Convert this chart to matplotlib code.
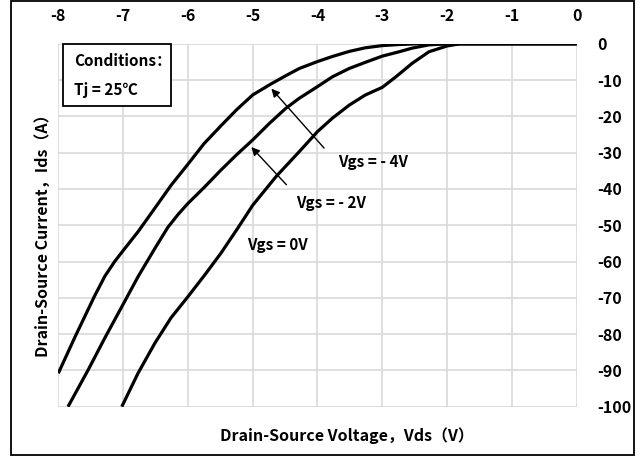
import matplotlib.pyplot as plt
from matplotlib.patches import Rectangle

plt.rcParams['font.family'] = ['Noto Sans CJK SC', 'DejaVu Sans']
plt.rcParams['font.weight'] = 'bold'
plt.rcParams['axes.unicode_minus'] = False

# Vgs = -4V
vds_m4 = [-8.0, -7.74, -7.44, -7.28, -7.13, -7.0, -6.77, -6.51, -6.26, -6.0,
          -5.75, -5.49, -5.25, -5.0, -4.74, -4.49, -4.28, -4.0, -3.77, -3.51,
          -3.26, -3.0, -2.74, -2.45, -2.0, -1.0, 0.0]
ids_m4 = [-90.8, -80.7, -69.5, -64.0, -60.0, -57.0, -51.8, -45.3, -39.0, -33.2,
          -27.5, -22.6, -18.2, -14.1, -11.3, -8.8, -6.8, -4.9, -3.5, -2.1,
          -1.1, -0.5, -0.2, 0.0, 0.0, 0.0, 0.0]

# Vgs = -2V
vds_m2 = [-7.85, -7.54, -7.28, -7.0, -6.77, -6.51, -6.31, -6.15, -6.0, -5.75,
          -5.49, -5.25, -5.0, -4.74, -4.49, -4.28, -4.0, -3.77, -3.51, -3.26,
          -3.0, -2.74, -2.54, -2.28, -2.0, -1.0, 0.0]
ids_m2 = [-100.0, -89.9, -81.0, -71.8, -64.2, -56.4, -50.6, -47.0, -44.0, -39.6,
          -34.8, -30.6, -26.5, -21.9, -17.8, -15.0, -11.8, -9.1, -6.8, -5.1,
          -3.4, -2.2, -1.2, -0.3, 0.0, 0.0, 0.0]

# Vgs = 0V
vds_0 = [-7.02, -6.77, -6.51, -6.26, -6.0, -5.74, -5.49, -5.23, -5.0, -4.64,
         -4.28, -4.0, -3.77, -3.51, -3.26, -3.0, -2.79, -2.54, -2.28, -2.0,
         -1.8, -1.0, 0.0]
ids_0 = [-100.0, -90.8, -82.5, -75.5, -69.7, -63.7, -57.7, -50.8, -44.5, -36.6,
         -29.7, -24.2, -20.5, -16.9, -14.1, -12.0, -9.1, -5.4, -2.2, -0.6,
         0.0, 0.0, 0.0]

x_ticks = [-8, -7, -6, -5, -4, -3, -2, -1, 0]
y_ticks = [0, -10, -20, -30, -40, -50, -60, -70, -80, -90, -100]

fig = plt.figure(figsize=(6.37, 4.58), dpi=100)
ax = fig.add_axes([0.0915, 0.112, 0.8138, 0.7924])

for x, y in [(vds_m4, ids_m4), (vds_m2, ids_m2), (vds_0, ids_0)]:
    ax.plot(x, y, color='black', lw=2.3, solid_capstyle='butt',
            solid_joinstyle='round', zorder=3)

ax.set_xlim(-8, 0)
ax.set_ylim(-100, 0)
ax.set_xticks(x_ticks)
ax.set_yticks(y_ticks)
ax.xaxis.tick_top()
ax.yaxis.tick_right()
ax.tick_params(axis='x', length=0, pad=14, labelsize=11.5)
ax.tick_params(axis='y', length=0, pad=15, labelsize=11.5)
for lab in ax.get_yticklabels():
    lab.set_horizontalalignment('left')
ax.grid(True, color='#d9d9d9', lw=1.2)
ax.set_axisbelow(True)
for s in ax.spines.values():
    s.set_visible(False)

# conditions box
ax.add_patch(Rectangle((0.0085, 0.8286), 0.209, 0.1714, transform=ax.transAxes,
                       fill=True, facecolor='white', edgecolor='black', lw=1.3,
                       clip_on=False, zorder=4))
ax.text(0.03, 0.952, 'Conditions：', transform=ax.transAxes, fontsize=11,
        va='center', ha='left', zorder=5)
ax.text(0.03, 0.873, 'Tj = 25℃', transform=ax.transAxes, fontsize=11,
        va='center', ha='left', zorder=5)

# annotations
ax.annotate('', xy=(-4.74, -11.8), xytext=(-3.87, -29.3),
            arrowprops=dict(arrowstyle='-|>', color='black', lw=1.0,
                            mutation_scale=12))
ax.annotate('', xy=(-5.05, -27.9), xytext=(-4.45, -39.4),
            arrowprops=dict(arrowstyle='-|>', color='black', lw=1.0,
                            mutation_scale=12))
ax.text(-3.14, -32.5, 'Vgs = - 4V', fontsize=11, ha='center', va='center')
ax.text(-3.79, -43.9, 'Vgs = - 2V', fontsize=11, ha='center', va='center')
ax.text(-4.62, -55.4, 'Vgs = 0V', fontsize=11, ha='center', va='center')

fig.text(347 / 637, 1 - 436 / 458, 'Drain-Source Voltage，Vds（V）',
         fontsize=11.5, ha='center', va='center')
fig.text(43 / 637, 1 - 231.5 / 458, 'Drain-Source Current，Ids（A）',
         fontsize=11.5, ha='center', va='center', rotation=90)

# outer frame
fig.patches.append(Rectangle((11 / 637, 3 / 458), 623 / 637, 454 / 458,
                             transform=fig.transFigure, fill=False,
                             edgecolor='black', lw=1.3))

fig.savefig('out.png', dpi=100)
